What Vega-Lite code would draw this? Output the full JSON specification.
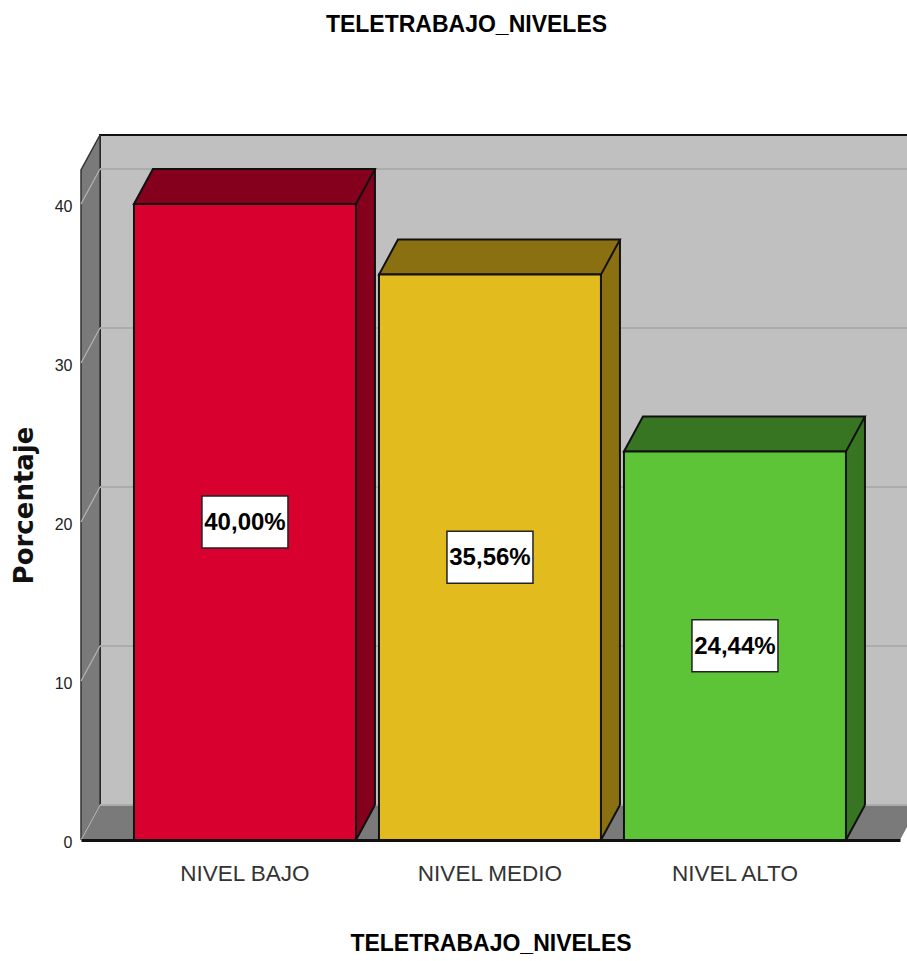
{
  "$schema": "https://vega.github.io/schema/vega-lite/v6.json",
  "width": 819,
  "height": 670,
  "autosize": {"type": "none"},
  "padding": {"left": 81, "top": 170, "right": 7, "bottom": 121},
  "background": "#ffffff",
  "config": {"view": {"stroke": null}},
  "title": {
    "text": "TELETRABAJO_NIVELES",
    "font": "Liberation Sans",
    "fontWeight": "bold",
    "fontSize": 23,
    "color": "#000000",
    "anchor": "middle",
    "dx": -24,
    "offset": 95
  },
  "datasets": {
    "niveles": [
      {"nivel": "NIVEL BAJO", "valor": 40.0, "etiqueta": "40,00%"},
      {"nivel": "NIVEL MEDIO", "valor": 35.56, "etiqueta": "35,56%"},
      {"nivel": "NIVEL ALTO", "valor": 24.44, "etiqueta": "24,44%"}
    ],
    "marcas": [
      {"marca": 0},
      {"marca": 10},
      {"marca": 20},
      {"marca": 30},
      {"marca": 40}
    ],
    "pared": [{"base": 0, "tope": 42.14}]
  },
  "data": {"name": "niveles"},
  "resolve": {"scale": {"color": "independent"}},
  "layer": [
    {
      "description": "Back wall, pushed up and right by the depth of the box",
      "data": {"name": "pared"},
      "mark": {"type": "rect", "fill": "#c0c0c0", "stroke": "#111111", "strokeWidth": 2, "xOffset": 19, "x2Offset": 19, "yOffset": -35, "y2Offset": -35},
      "encoding": {
        "x": {"value": 0},
        "x2": {"value": 819},
        "y": {
          "field": "base",
          "type": "quantitative",
          "scale": {"domain": [0, 42.14], "nice": false, "zero": false},
          "axis": {
            "values": [0, 10, 20, 30, 40],
            "title": "Porcentaje",
            "titleFont": "DejaVu Sans",
            "titleFontWeight": "bold",
            "titleFontSize": 26,
            "titleColor": "#111111",
            "titlePadding": 17,
            "titleY": 335,
            "labelFont": "Liberation Sans",
            "labelFontSize": 16,
            "labelColor": "#222222",
            "labelPadding": 9,
            "labelOffset": 2,
            "ticks": false,
            "grid": false,
            "domain": false
          }
        },
        "y2": {"field": "tope"}
      }
    },
    {
      "description": "Left wall",
      "data": {"name": "pared"},
      "mark": {"type": "point", "shape": "M0,0L19,-35L19,-705L0,-670Z", "size": 4, "filled": true, "opacity": 1, "fill": "#7a7a7a", "stroke": "#333333", "strokeWidth": 1.5},
      "encoding": {"x": {"value": 0}, "y": {"field": "base", "type": "quantitative"}}
    },
    {
      "description": "Floor",
      "data": {"name": "pared"},
      "mark": {"type": "point", "shape": "M0,0L19,-35L838,-35L819,0Z", "size": 4, "filled": true, "opacity": 1, "fill": "#7a7a7a", "strokeWidth": 0},
      "encoding": {"x": {"value": 0}, "y": {"field": "base", "type": "quantitative"}}
    },
    {
      "description": "Gridlines on the back wall",
      "data": {"name": "marcas"},
      "mark": {"type": "rule", "color": "#acacac", "strokeWidth": 2, "xOffset": 19, "x2Offset": 19, "yOffset": -35},
      "encoding": {"x": {"value": 0}, "x2": {"value": 838}, "y": {"field": "marca", "type": "quantitative"}}
    },
    {
      "description": "Gridlines running across the left wall",
      "data": {"name": "marcas"},
      "mark": {"type": "point", "shape": "M0,0L19,-35", "size": 4, "filled": false, "opacity": 1, "stroke": "#b4b4b4", "strokeWidth": 1.2},
      "encoding": {"x": {"value": 0}, "y": {"field": "marca", "type": "quantitative"}}
    },
    {
      "description": "Side faces of the bars",
      "mark": {"type": "bar", "xOffset": 19, "x2Offset": 19, "yOffset": -35, "y2Offset": -35, "strokeWidth": 0},
      "encoding": {
        "x": {
          "field": "nivel",
          "type": "nominal",
          "sort": null,
          "scale": {"type": "band", "paddingInner": 0.0939, "paddingOuter": 0.2184, "align": 0.495},
          "axis": {
            "title": "TELETRABAJO_NIVELES",
            "titleFont": "Liberation Sans",
            "titleFontWeight": "bold",
            "titleFontSize": 23,
            "titleColor": "#000000",
            "titlePadding": 48,
            "labelFont": "Liberation Sans",
            "labelFontSize": 22.5,
            "labelColor": "#333333",
            "labelAngle": 0,
            "labelPadding": 22,
            "labelLimit": 300,
            "ticks": false,
            "domain": true,
            "domainColor": "#111111",
            "domainWidth": 3,
            "zindex": 1
          }
        },
        "y": {"field": "valor", "type": "quantitative"},
        "color": {"field": "nivel", "type": "nominal", "sort": null, "legend": null, "scale": {"range": ["#85001c", "#8b7011", "#387522"]}}
      }
    },
    {
      "description": "Lower corner of the side faces",
      "mark": {"type": "point", "shape": "M0,0L19,-35L0,-35Z", "size": 4, "filled": true, "opacity": 1, "strokeWidth": 0},
      "encoding": {
        "x": {"field": "nivel", "type": "nominal", "sort": null, "bandPosition": 1},
        "y": {"datum": 0, "type": "quantitative"},
        "color": {"field": "nivel", "type": "nominal", "sort": null, "legend": null, "scale": {"range": ["#85001c", "#8b7011", "#387522"]}}
      }
    },
    {
      "description": "Bottom edge of the side faces",
      "mark": {"type": "point", "shape": "M0,0L19,-35", "size": 4, "filled": false, "opacity": 1, "stroke": "#111111", "strokeWidth": 2},
      "encoding": {
        "x": {"field": "nivel", "type": "nominal", "sort": null, "bandPosition": 1},
        "y": {"datum": 0, "type": "quantitative"}
      }
    },
    {
      "description": "Back edge of the side faces",
      "mark": {"type": "rule", "color": "#111111", "strokeWidth": 2, "xOffset": 19, "yOffset": -35, "y2Offset": -35},
      "encoding": {
        "x": {"field": "nivel", "type": "nominal", "sort": null, "bandPosition": 1},
        "y": {"field": "valor", "type": "quantitative"},
        "y2": {"datum": 0}
      }
    },
    {
      "description": "Top faces of the bars",
      "mark": {"type": "point", "shape": "M-111,0L-92,-35L130,-35L111,0Z", "size": 4, "filled": true, "opacity": 1, "stroke": "#111111", "strokeWidth": 2},
      "encoding": {
        "x": {"field": "nivel", "type": "nominal", "sort": null},
        "y": {"field": "valor", "type": "quantitative"},
        "fill": {"field": "nivel", "type": "nominal", "sort": null, "legend": null, "scale": {"range": ["#85001c", "#8b7011", "#387522"]}}
      }
    },
    {
      "description": "Front faces of the bars",
      "mark": {"type": "bar", "stroke": "#111111", "strokeWidth": 2},
      "encoding": {
        "x": {"field": "nivel", "type": "nominal", "sort": null},
        "y": {"field": "valor", "type": "quantitative"},
        "color": {"field": "nivel", "type": "nominal", "sort": null, "legend": null, "scale": {"range": ["#d7002e", "#e2bb1e", "#5ec437"]}}
      }
    },
    {
      "description": "White boxes behind the value labels, centred on half of each bar",
      "transform": [{"calculate": "datum.valor / 2", "as": "mitad"}],
      "mark": {"type": "point", "shape": "M-43,-26H43V26H-43Z", "size": 4, "filled": true, "opacity": 1, "fill": "#ffffff", "stroke": "#222222", "strokeWidth": 1.5},
      "encoding": {
        "x": {"field": "nivel", "type": "nominal", "sort": null},
        "y": {"field": "mitad", "type": "quantitative"}
      }
    },
    {
      "description": "Value labels",
      "transform": [{"calculate": "datum.valor / 2", "as": "mitad"}],
      "mark": {"type": "text", "font": "Liberation Sans", "fontWeight": "bold", "fontSize": 24, "color": "#000000", "align": "center", "baseline": "middle", "yOffset": 1},
      "encoding": {
        "x": {"field": "nivel", "type": "nominal", "sort": null},
        "y": {"field": "mitad", "type": "quantitative"},
        "text": {"field": "etiqueta"}
      }
    }
  ]
}
